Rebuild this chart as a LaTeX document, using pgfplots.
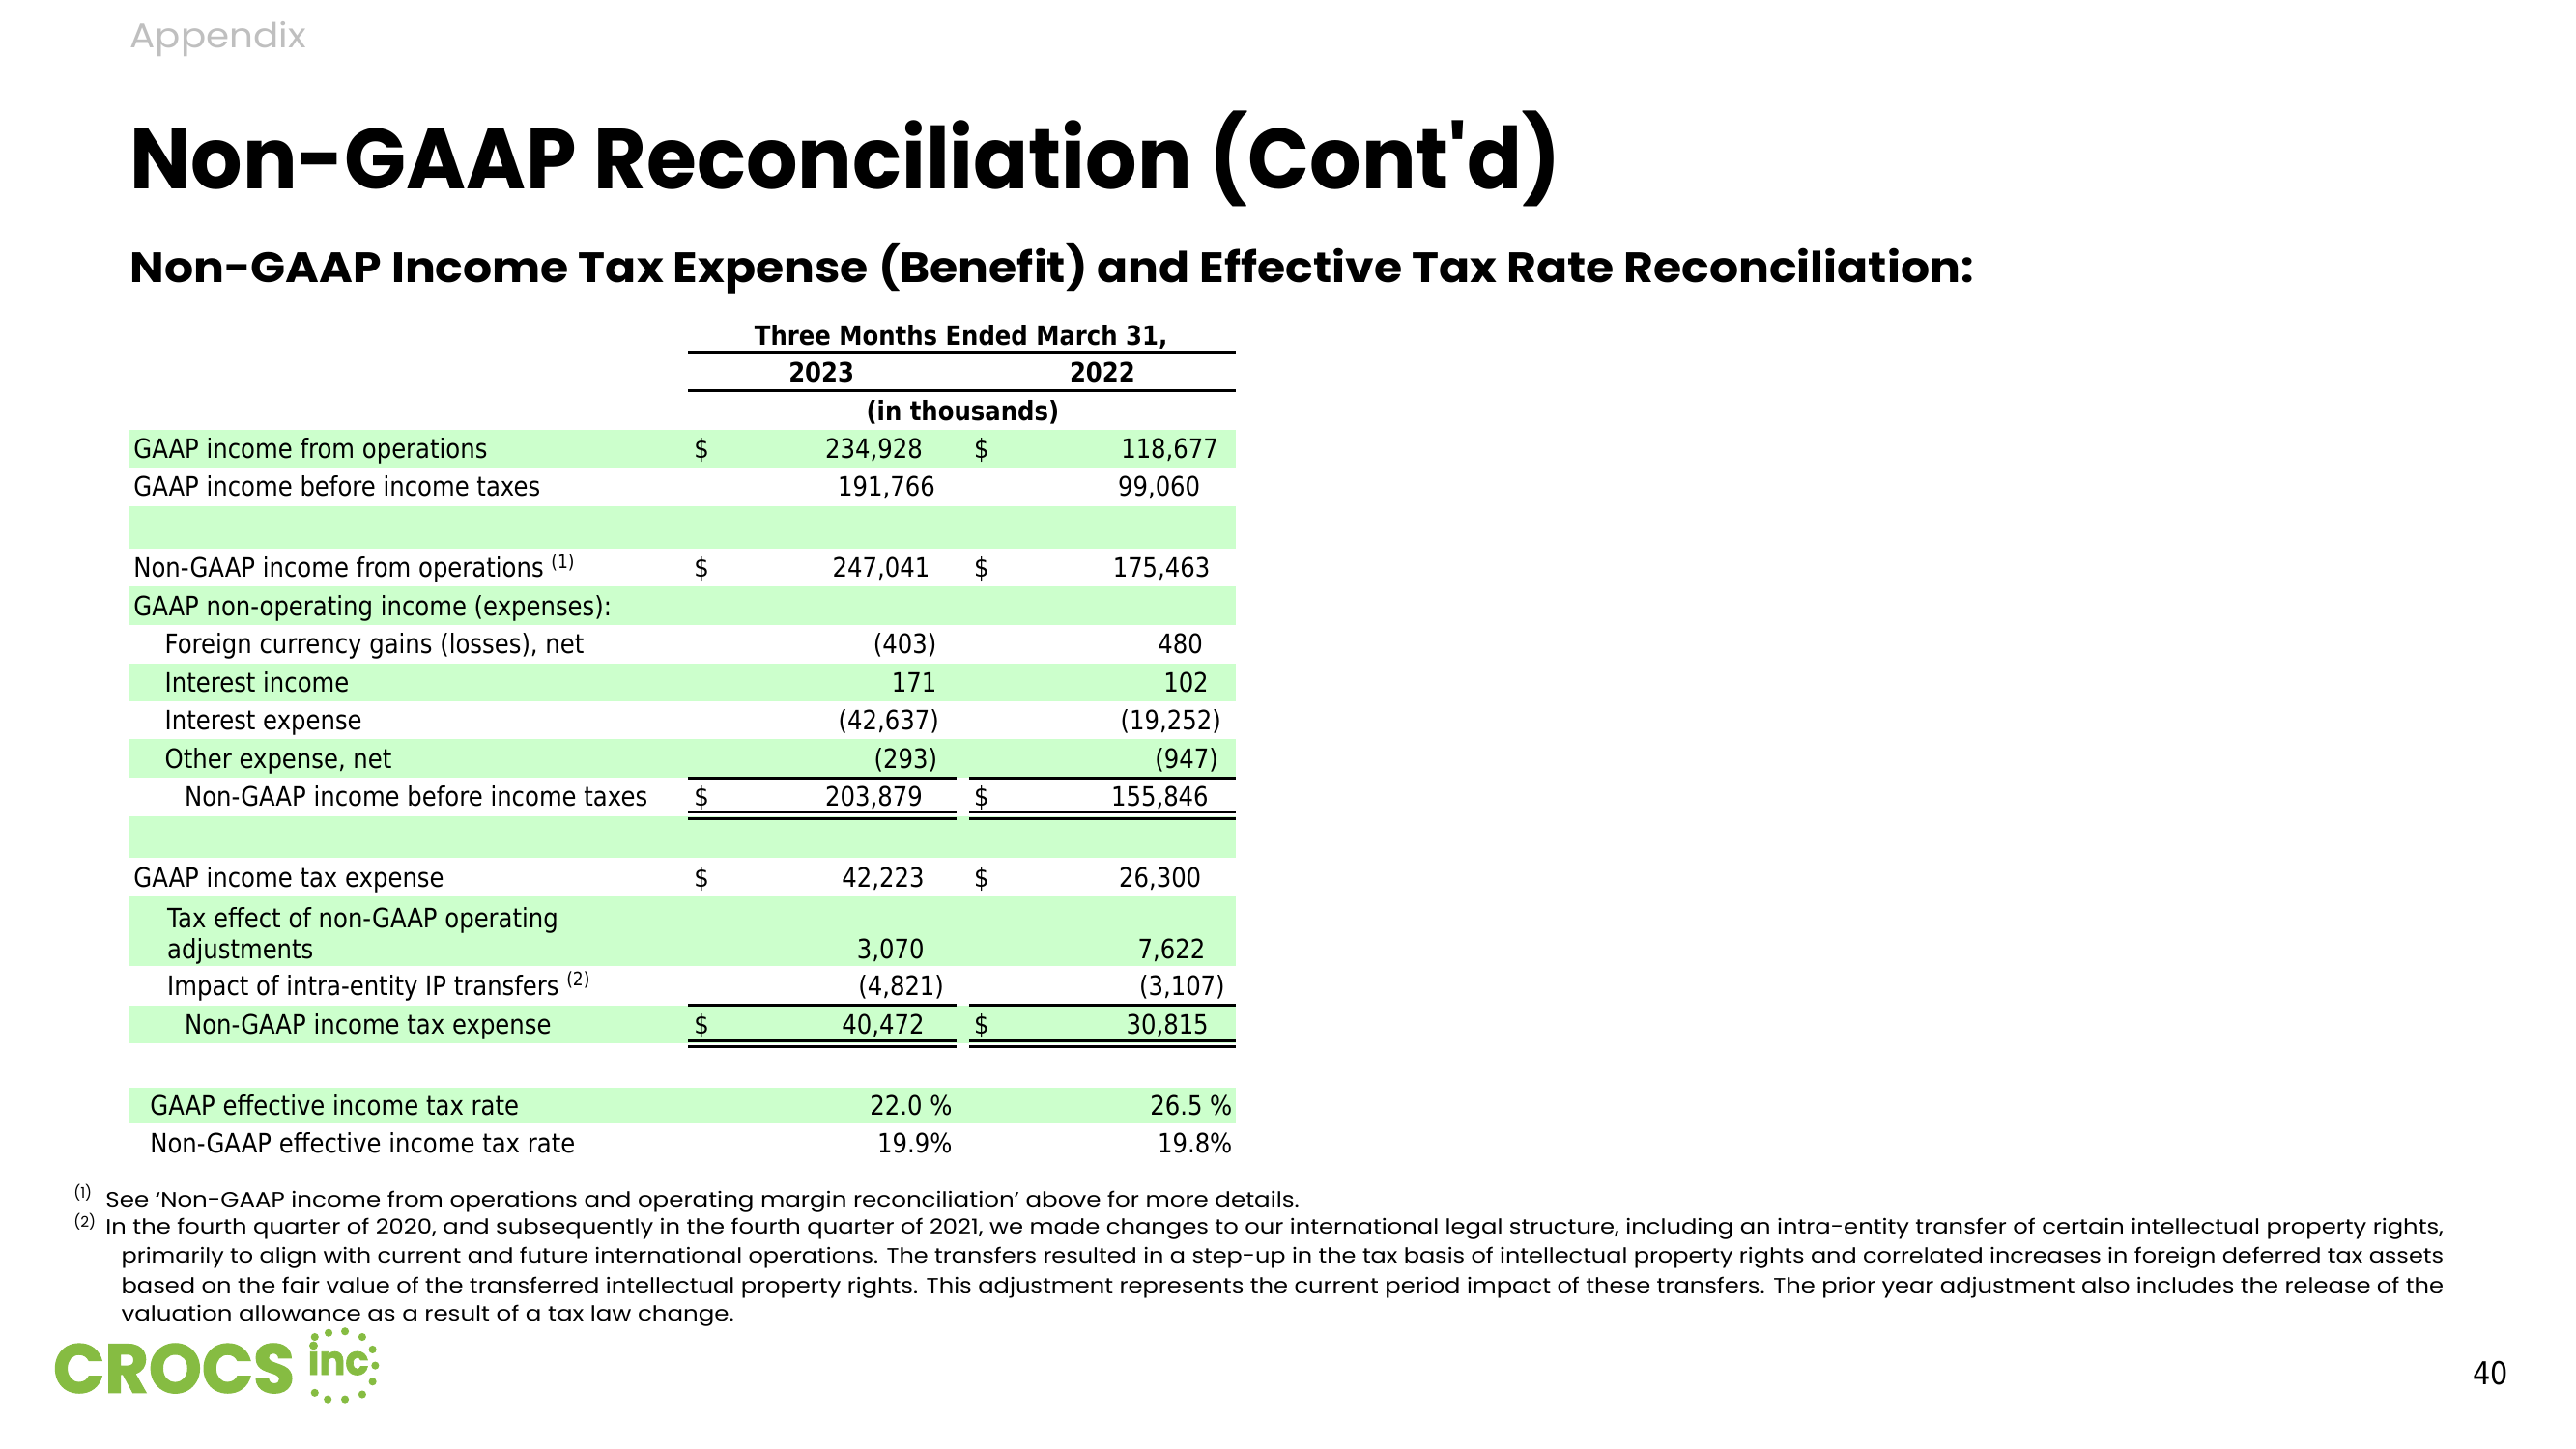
\documentclass[border=0pt]{standalone}
\usepackage{pgfplots}
\pgfplotsset{compat=1.18}
\usepackage{graphicx}
\usepackage{fontspec}
\setmainfont{DejaVu Sans}[FakeStretch=0.88]
\newfontfamily\pop{Poppins}
\newfontfamily\popx{Poppins}[FakeBold=1.6]
\definecolor{band}{HTML}{CCFFCC}
\definecolor{crocs}{HTML}{86BC42}
\definecolor{appx}{HTML}{BFBFBF}
\newcommand{\tl}[3]{\node[anchor=base west,inner sep=0pt] at (axis cs:#1,#2) {#3};}
\newcommand{\tr}[3]{\node[anchor=base east,inner sep=0pt] at (axis cs:#1,#2) {#3};}
\newcommand{\tc}[3]{\node[anchor=base,inner sep=0pt] at (axis cs:#1,#2) {#3};}
\newcommand{\band}[2]{\fill[band] (axis cs:78,#1) rectangle (axis cs:752,#2);}
\newcommand{\hl}[4]{\draw[line width=#4] (axis cs:#1,#3) -- (axis cs:#2,#3);}
\begin{document}
\begin{tikzpicture}[every node/.append style={font=\fontsize{8.3}{10}\selectfont}]
\begin{axis}[width=800pt,height=450pt,scale only axis,xmin=0,xmax=1568,ymin=0,ymax=882,
  y dir=reverse,hide axis,clip=false]
\fill[white] (axis cs:0,0) rectangle (axis cs:1568,882);
% green bands
\band{262}{284.5}
\band{308}{334}
\band{357}{380.5}
\band{404}{427}
\band{450}{473.5}
\band{497}{522.5}
\band{546}{588}
\band{612}{635}
\band{662}{684}
% headings
\node[anchor=base west,inner sep=0pt,text=appx] at (axis cs:78.8,29.4) {\resizebox{54.6pt}{\height}{\pop\fontsize{10.7}{12}\selectfont Appendix}};
\node[anchor=base west,inner sep=0pt] at (axis cs:78.8,114.7) {\resizebox{444.4pt}{\height}{\pop\bfseries\fontsize{26.5}{30}\selectfont Non-GAAP Reconciliation (Cont\textquotesingle d)}};
\node[anchor=base west,inner sep=0pt] at (axis cs:78.8,172) {\resizebox{572.5pt}{\height}{\pop\bfseries\fontsize{13.2}{15}\selectfont Non-GAAP Income Tax Expense (Benefit) and Effective Tax Rate Reconciliation:}};
% table header
\tc{585}{210}{\bfseries Three Months Ended March 31,}
\hl{419}{752}{214.5}{1pt}
\tc{500}{232.5}{\bfseries 2023}
\tc{671}{232.5}{\bfseries 2022}
\hl{419}{752}{238}{1pt}
\tc{586}{256}{\bfseries (in thousands)}
% rows
\tl{81}{279}{GAAP income from operations}
\tc{427}{279}{\$}\tr{562}{279}{234,928}\tc{597.5}{279}{\$}\tr{742}{279}{118,677}
\tl{81}{302}{GAAP income before income taxes}
\tr{569.6}{302}{191,766}\tr{731}{302}{99,060}
\tl{81}{351.5}{Non-GAAP income from operations \textsuperscript{(1)}}
\tc{427}{351.5}{\$}\tr{566.4}{351.5}{247,041}\tc{597.5}{351.5}{\$}\tr{737}{351.5}{175,463}
\tl{81}{374.7}{GAAP non-operating income (expenses):}
\tl{100}{398}{Foreign currency gains (losses), net}
\tr{570.5}{398}{(403)}\tr{732.5}{398}{480}
\tl{100}{421.5}{Interest income}
\tr{570.5}{421.5}{171}\tr{736}{421.5}{102}
\tl{100}{444.5}{Interest expense}
\tr{572}{444.5}{(42,637)}\tr{743.7}{444.5}{(19,252)}
\tl{100}{467.7}{Other expense, net}
\tr{571}{467.7}{(293)}\tr{742}{467.7}{(947)}
\hl{419}{582}{473.5}{0.9pt}\hl{590}{752}{473.5}{0.9pt}
\tl{112}{491}{Non-GAAP income before income taxes}
\tc{427}{491}{\$}\tr{562}{491}{203,879}\tc{597.5}{491}{\$}\tr{736}{491}{155,846}
\hl{419}{582}{494.6}{0.8pt}\hl{590}{752}{494.6}{0.8pt}
\hl{419}{582}{498.4}{0.8pt}\hl{590}{752}{498.4}{0.8pt}
\tl{81}{540}{GAAP income tax expense}
\tc{427}{540}{\$}\tr{563}{540}{42,223}\tc{597.5}{540}{\$}\tr{731.6}{540}{26,300}
\tl{101.5}{565}{Tax effect of non-GAAP operating}
\tl{101.5}{583.6}{adjustments}
\tr{563}{583.6}{3,070}\tr{734}{583.6}{7,622}
\tl{101.5}{606}{Impact of intra-entity IP transfers \textsuperscript{(2)}}
\tr{575}{606}{(4,821)}\tr{746}{606}{(3,107)}
\hl{419}{582}{612}{0.9pt}\hl{590}{752}{612}{0.9pt}
\tl{112}{629.5}{Non-GAAP income tax expense}
\tc{427}{629.5}{\$}\tr{563}{629.5}{40,472}\tc{597.5}{629.5}{\$}\tr{736}{629.5}{30,815}
\hl{419}{582}{633.6}{0.8pt}\hl{590}{752}{633.6}{0.8pt}
\hl{419}{582}{637.4}{0.8pt}\hl{590}{752}{637.4}{0.8pt}
\tl{91}{679}{GAAP effective income tax rate}
\tr{580}{679}{22.0 \%}\tr{750.5}{679}{26.5 \%}
\tl{91}{702}{Non-GAAP effective income tax rate}
\tr{580}{702}{19.9\%}\tr{750.5}{702}{19.8\%}
% footnotes
\node[anchor=base west,inner sep=0pt] at (axis cs:44.5,729.5) {\pop\fontsize{4.6}{5}\selectfont (1)};
\node[anchor=base west,inner sep=0pt] at (axis cs:44.5,747.5) {\pop\fontsize{4.6}{5}\selectfont (2)};
\node[anchor=base west,inner sep=0pt] at (axis cs:64,735) {\resizebox{370.7pt}{\height}{\pop\fontsize{6.4}{7}\selectfont See ‘Non-GAAP income from operations and operating margin reconciliation’ above for more details.}};
\node[anchor=base west,inner sep=0pt] at (axis cs:64,751.5) {\resizebox{726pt}{\height}{\pop\fontsize{6.4}{7}\selectfont In the fourth quarter of 2020, and subsequently in the fourth quarter of 2021, we made changes to our international legal structure, including an intra-entity transfer of certain intellectual property rights,}};
\node[anchor=base west,inner sep=0pt] at (axis cs:73.5,769) {\resizebox{721.2pt}{\height}{\pop\fontsize{6.4}{7}\selectfont primarily to align with current and future international operations. The transfers resulted in a step-up in the tax basis of intellectual property rights and correlated increases in foreign deferred tax assets}};
\node[anchor=base west,inner sep=0pt] at (axis cs:73.5,787) {\resizebox{721.2pt}{\height}{\pop\fontsize{6.4}{7}\selectfont based on the fair value of the transferred intellectual property rights. This adjustment represents the current period impact of these transfers. The prior year adjustment also includes the release of the}};
\node[anchor=base west,inner sep=0pt] at (axis cs:73.5,804.5) {\resizebox{190.3pt}{\height}{\pop\fontsize{6.4}{7}\selectfont valuation allowance as a result of a tax law change.}};
% logo
\node[anchor=base west,inner sep=0pt,text=crocs] at (axis cs:32,848) {\resizebox{75pt}{\height}{\popx\bfseries\fontsize{21.5}{22}\selectfont CROCS}};
\node[anchor=base west,inner sep=0pt,text=crocs] at (axis cs:187,837) {\resizebox{18.9pt}{\height}{\popx\bfseries\fontsize{12.8}{13}\selectfont inc}};
\addplot[only marks,mark=*,mark size=1pt,color=crocs] coordinates {
(191.6,814) (200,811.5) (210,810.6) (220.5,814) (226.8,821.6) (228.4,831.4)
(226.8,841.2) (220.5,849) (210,852) (199.5,852) (191.6,848)};
% page number
\tr{1527}{843}{\fontsize{9.8}{11}\selectfont 40}
\end{axis}
\end{tikzpicture}
\end{document}
